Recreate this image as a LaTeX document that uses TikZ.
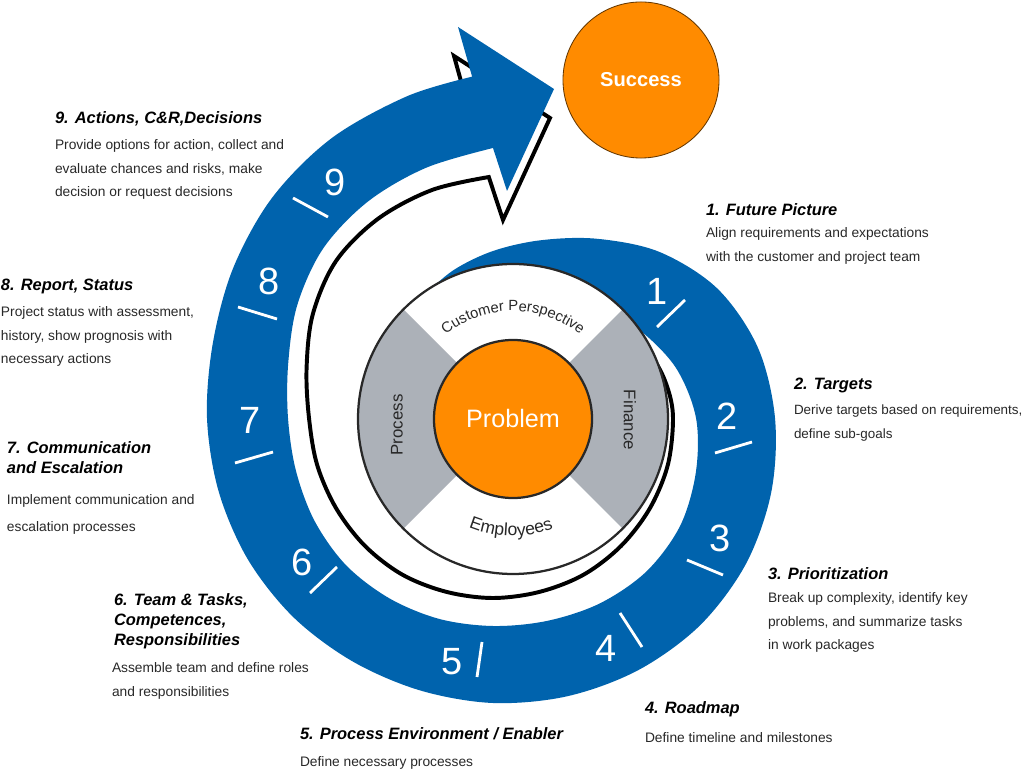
\documentclass[tikz,border=0pt]{standalone}
\usepackage{fontspec}
\setmainfont{Liberation Sans}
\usetikzlibrary{positioning,decorations.text}
\definecolor{ringblue}{RGB}{0,99,173}
\definecolor{pumpkin}{RGB}{255,139,0}
\definecolor{sectorgrey}{RGB}{172,177,184}
\definecolor{inkgrey}{RGB}{40,40,40}
\begin{document}
\begin{tikzpicture}[x=0.025cm, y=0.025cm, every node/.style={inner sep=0pt, outer sep=0pt},
    head/.style={anchor=north west, align=left, font=\fontsize{11.7}{14.2}\selectfont\bfseries\itshape},
    body/.style={anchor=north west, align=left, text=inkgrey, font=\fontsize{9.8}{16.7}\selectfont},
    num/.style={text=white, font=\fontsize{27}{27}\selectfont},
    tickline/.style={white, line width=2pt},
    ringword/.style={text=inkgrey, font=\fontsize{12}{14}\selectfont}]
    \useasboundingbox (0,0) rectangle (1024,770);

    \begin{scope}[shift={(493,352)}]
        \filldraw[fill=white, draw=black, line width=2.8pt]
            plot[smooth, tension=0.55] coordinates {(60:160) (45:190) (30:215) (15:235) (0:245) (-15:250) (-45:255) (-90:250) (-135:248) (-180:250) (-195:255) (-210:270) (-225:285) (-240:295) (-255:305) (-265.4:313)}
            -- (-39,362) -- (57,300) -- (10,198)
            -- plot[smooth, tension=0.55] coordinates {(-269:241) (-255:236) (-240:230) (-225:222) (-210:208) (-195:193) (-180:184) (-165:182) (-150:181) (-135:181) (-120:181) (-105:180) (-90:180) (-75:180) (-60:181) (-45:181) (-30:181) (-15:181) (0:180) (10:177) (20:171) (35:160) (50:148) (70:135)}
            -- cycle;
        \fill[ringblue]
            plot[smooth, tension=0.55] coordinates {(125:135) (120:140) (105:153) (90:167) (75:184) (60:207) (45:235) (30:259) (15:274) (0:282) (-15:288) (-30:292) (-45:293) (-60:291) (-75:288) (-90:285) (-105:282) (-120:281) (-135:282) (-150:283) (-165:284) (-180:286) (-195:290) (-210:300) (-225:312) (-240:323) (-255:333) (-266.5:342)}
            -- (-35,391) -- (61,329) -- (14,227)
            -- plot[smooth, tension=0.55] coordinates {(-270:270) (-255:259) (-240:250) (-225:240) (-210:226) (-195:212) (-180:205) (-165:204) (-150:206) (-135:208) (-120:208) (-105:208) (-90:208) (-75:210) (-60:214) (-45:217) (-30:216) (-15:210) (0:203) (15:190) (30:172) (45:155) (60:145) (80:133) (100:125) (125:112)}
            -- cycle;
    \end{scope}

    \draw[tickline] (657,443) -- (685,470);
    \draw[tickline] (715,317) -- (752,328);
    \draw[tickline] (687,210) -- (723,195);
    \draw[tickline] (620,157) -- (642,123);
    \draw[tickline] (482,128) -- (477,93);
    \draw[tickline] (337,203) -- (310,177);
    \draw[tickline] (235,307) -- (273,318);
    \draw[tickline] (238,463) -- (277,451);
    \draw[tickline] (293,572) -- (328,553);

    \node (n1) [num] at (657,479) {1};
    \node (n2) [num] at (727,354) {2};
    \node (n3) [num] at (720,232) {3};
    \node (n4) [num] at (606,122) {4};
    \node (n5) [num] at (452,108) {5};
    \node (n6) [num] at (302,208) {6};
    \node (n7) [num] at (250,350) {7};
    \node (n8) [num] at (269,489) {8};
    \node (n9) [num] at (335,588) {9};

    \fill[white] (513,351) circle[radius=155];
    \fill[sectorgrey] (513,351) -- ++(135:155) arc[start angle=135, end angle=225, radius=155] -- cycle;
    \fill[sectorgrey] (513,351) -- ++(-45:155) arc[start angle=-45, end angle=45, radius=155] -- cycle;
    \draw[inkgrey, line width=1.6pt] (513,351) circle[radius=155];
    \node (problem) [circle, fill=pumpkin, draw=inkgrey, line width=1.6pt, minimum size=3.95cm, text=white, font=\fontsize{17.9}{20}\selectfont] at (513,351) {Problem};
    \node (process) [ringword, rotate=90] at (397,345) {Process};
    \node (finance) [ringword, rotate=-90] at (630,350) {Finance};
    \path[decorate, decoration={text along path, text align=center, text={|\fontsize{10.5}{12}\selectfont\color{inkgrey}|Customer Perspective}}]
        (513,351) ++(134:108) arc[start angle=134, end angle=46, radius=108];
    \path[decorate, decoration={text along path, text align=center, text={|\fontsize{12.5}{14}\selectfont\color{inkgrey}|Employees}}]
        (513,351) ++(242:117) arc[start angle=242, end angle=296, radius=117];

    \node (success) [circle, fill=pumpkin, draw=black!60!pumpkin, line width=0.6pt, minimum size=3.9cm, text=white, font=\fontsize{14.3}{16}\selectfont\bfseries] at (641,690) {Success};

    \node (h1) [head] at (706,566) {1. Future Picture};
    \node (b1) [body] at (706,542) {Align requirements and expectations\\ with the customer and project team};
    \node (h2) [head] at (794,392) {2. Targets};
    \node (b2) [body, font=\fontsize{9.55}{16.7}\selectfont] at (794,365) {Derive targets based on requirements,\\ define sub-goals};
    \node (h3) [head] at (768,202) {3. Prioritization};
    \node (b3) [body] at (768,177) {Break up complexity, identify key\\ problems, and summarize tasks\\ in work packages};
    \node (h4) [head] at (645,68) {4. Roadmap};
    \node (b4) [body] at (645,37) {Define timeline and milestones};
    \node (h5) [head] at (300,42) {5. Process Environment / Enabler};
    \node (b5) [body] at (300,13) {Define necessary processes};
    \node (h6) [head] at (114,176) {6. Team \& Tasks,\\ Competences,\\ Responsibilities};
    \node (b6) [body] at (112,107) {Assemble team and define roles\\ and responsibilities};
    \node (h7) [head] at (7,328) {7. Communication\\ and Escalation};
    \node (b7) [body] at (7,275) {Implement communication and\\[2.5pt] escalation processes};
    \node (h8) [head] at (1,491) {8. Report, Status};
    \node (b8) [body] at (1,463) {Project status with assessment,\\ history, show prognosis with\\ necessary actions};
    \node (h9) [head] at (55,658) {9. Actions, C\&R,Decisions};
    \node (b9) [body] at (55,630) {Provide options for action, collect and\\ evaluate chances and risks, make\\ decision or request decisions};
\end{tikzpicture}
\end{document}
